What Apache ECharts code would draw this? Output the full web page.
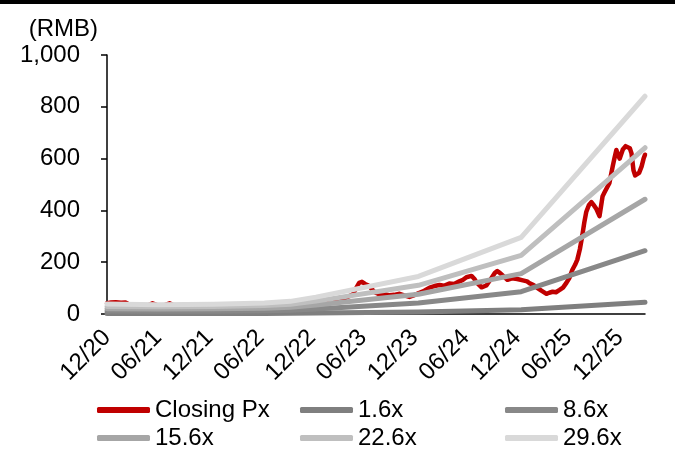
<!DOCTYPE html>
<html>
<head>
<meta charset="utf-8">
<script src="https://cdn.jsdelivr.net/npm/echarts@6/dist/echarts.min.js"></script>
<style>
  html, body { margin: 0; padding: 0; background: #fff; }
  #chart { width: 675px; height: 453px; }
</style>
</head>
<body>
<div id="chart"></div>
<script>
// Closing price (RMB)
const priceDates = [
  '2020-12-01','2020-12-15','2021-01-01','2021-01-20','2021-02-05','2021-02-20','2021-03-10','2021-04-01',
  '2021-04-25','2021-05-12','2021-05-28','2021-06-20','2021-07-12','2021-07-28','2021-09-01','2021-10-15',
  '2021-12-01','2022-01-20','2022-03-10','2022-05-01','2022-06-20','2022-08-10','2022-10-01','2022-11-20',
  '2023-01-10','2023-02-20','2023-03-25','2023-04-25','2023-05-10','2023-05-18','2023-05-28','2023-06-08',
  '2023-06-20','2023-07-01','2023-07-12','2023-07-28','2023-08-15','2023-09-03','2023-09-20','2023-10-09',
  '2023-10-25','2023-11-13','2023-11-28','2023-12-19','2024-01-05','2024-01-24','2024-02-10','2024-02-28',
  '2024-03-15','2024-04-03','2024-04-20','2024-05-09','2024-05-22','2024-06-03','2024-06-21','2024-07-01',
  '2024-07-09','2024-07-27','2024-08-13','2024-09-01','2024-09-12','2024-09-21','2024-10-01','2024-10-09',
  '2024-10-27','2024-11-12','2024-12-01','2024-12-21','2025-01-05','2025-01-15','2025-01-28','2025-02-09',
  '2025-02-25','2025-03-15','2025-03-25','2025-04-06','2025-04-18','2025-05-01','2025-05-13','2025-05-25',
  '2025-06-05','2025-06-15','2025-06-25','2025-07-03','2025-07-12','2025-07-21','2025-07-28','2025-08-04',
  '2025-08-13','2025-08-22','2025-09-01','2025-09-09','2025-09-20','2025-10-01','2025-10-08','2025-10-15',
  '2025-10-25','2025-11-06','2025-11-12','2025-11-19','2025-11-26','2025-12-01','2025-12-12','2025-12-22',
  '2025-12-29','2026-01-06','2026-01-12','2026-01-19','2026-01-25','2026-01-30','2026-02-08','2026-02-17',
  '2026-02-24','2026-03-01'
];
const priceValues = [
  42, 44, 45, 43, 44, 36, 30, 28,
  33, 41, 34, 32, 41, 33, 30, 27,
  26, 24, 22, 20, 22, 24, 23, 28,
  40, 50, 60, 75, 105, 120, 124, 116,
  110, 98, 84, 76, 78, 72, 74, 78,
  72, 66, 72, 82, 90, 102, 108, 112,
  109, 118, 116, 126, 132, 142, 147, 136,
  122, 103, 110, 140, 158, 166, 158, 150,
  132, 138, 135, 130, 126, 118, 112, 102,
  90, 78, 82, 86, 84, 93, 102, 120,
  140, 170, 190, 210, 250, 305, 355, 395,
  420, 432, 418, 405, 378, 455, 470, 468,
  505, 570, 600, 633, 610, 600, 635, 648,
  655, 640, 620, 555, 535, 530, 545, 570,
  600, 615
];

// EPS path (RMB per share) behind the P/E bands
const epsDates = ['2020-12-01','2021-06-01','2021-12-15','2022-06-15','2022-09-15','2022-12-15','2023-12-15','2024-12-15','2026-03-01'];
const epsValues = [1.3, 1.22, 1.28, 1.45, 1.65, 2.2, 4.9, 10.0, 28.4];

// P/E multiples
const bandNames = ['1.6x', '8.6x', '15.6x', '22.6x', '29.6x'];
const bandMultiples = [1.6, 8.6, 15.6, 22.6, 29.6];
const bandColors = ['#7f7f7f', '#888888', '#a6a6a6', '#bfbfbf', '#d9d9d9'];

// x-axis ticks
const tickDates = ['2020-12-01','2021-06-01','2021-12-01','2022-06-01','2022-12-01','2023-06-01',
                   '2023-12-01','2024-06-01','2024-12-01','2025-06-01','2025-12-01'];
const tickLabels = ['12/20','06/21','12/21','06/22','12/22','06/23','12/23','06/24','12/24','06/25','12/25'];

// dates are placed on a numeric (millisecond) axis
const toTime = d => {
  const p = d.split('-').map(Number);
  return Date.UTC(p[0], p[1] - 1, p[2]);
};
const tickTimes = tickDates.map(toTime);

const font = 'Liberation Sans, Arial, sans-serif';
const fontSize = 24;

const series = [{
  name: 'Closing Px',
  type: 'line',
  data: priceDates.map((d, i) => [toTime(d), priceValues[i]]),
  showSymbol: false,
  symbol: 'none',
  lineStyle: { color: '#c00000', width: 4.5, cap: 'round', join: 'round' },
  itemStyle: { color: '#c00000' }
}];
bandNames.forEach((name, k) => {
  series.push({
    name: name,
    type: 'line',
    data: epsDates.map((d, i) => [toTime(d), +(epsValues[i] * bandMultiples[k]).toFixed(2)]),
    showSymbol: false,
    symbol: 'none',
    lineStyle: { color: bandColors[k], width: 5, cap: 'round', join: 'round' },
    itemStyle: { color: bandColors[k] }
  });
});

const legendBase = {
  orient: 'vertical',
  icon: 'roundRect',
  itemWidth: 53,
  itemHeight: 6,
  itemGap: 4,
  padding: 0,
  top: 398,
  height: 55,
  selectedMode: false,
  textStyle: { fontFamily: font, fontSize: fontSize, color: '#000' }
};

const chart = echarts.init(document.getElementById('chart'), null, { renderer: 'canvas' });
chart.setOption({
  animation: false,
  backgroundColor: '#fff',
  grid: { left: 107, right: 30, top: 55, bottom: 139, containLabel: false },
  graphic: [{ type: 'rect', shape: { x: 0, y: 0, width: 675, height: 4 }, style: { fill: '#000' } }],
  legend: [
    Object.assign({}, legendBase, { left: 97, data: ['Closing Px', '15.6x'] }),
    Object.assign({}, legendBase, { left: 300, data: ['1.6x', '22.6x'] }),
    Object.assign({}, legendBase, { left: 505, data: ['8.6x', '29.6x'] })
  ],
  xAxis: {
    type: 'value',
    min: toTime('2020-12-01'),
    max: toTime('2026-03-01'),
    axisLine: { show: true, onZero: false, lineStyle: { color: '#000', width: 1.5 } },
    axisTick: { show: false },
    splitLine: { show: false },
    axisLabel: {
      customValues: tickTimes,
      rotate: 45,
      margin: 20,
      color: '#000',
      fontFamily: font,
      fontSize: fontSize,
      hideOverlap: false,
      formatter: v => {
        const i = tickTimes.indexOf(v);
        return i >= 0 ? tickLabels[i] : '';
      }
    }
  },
  yAxis: {
    type: 'value',
    min: 0,
    max: 1000,
    interval: 200,
    name: '(RMB)',
    nameLocation: 'end',
    nameGap: 14,
    nameTextStyle: { fontFamily: font, fontSize: fontSize, color: '#000', align: 'right', padding: [0, 9, 0, 0] },
    axisLine: { show: true, lineStyle: { color: '#000', width: 1.5 } },
    axisTick: { show: true, inside: false, length: 6, lineStyle: { color: '#000', width: 1.5 } },
    splitLine: { show: false },
    axisLabel: {
      margin: 27,
      color: '#000',
      fontFamily: font,
      fontSize: fontSize,
      formatter: v => v.toLocaleString('en-US')
    }
  },
  series: series
});
</script>
</body>
</html>
